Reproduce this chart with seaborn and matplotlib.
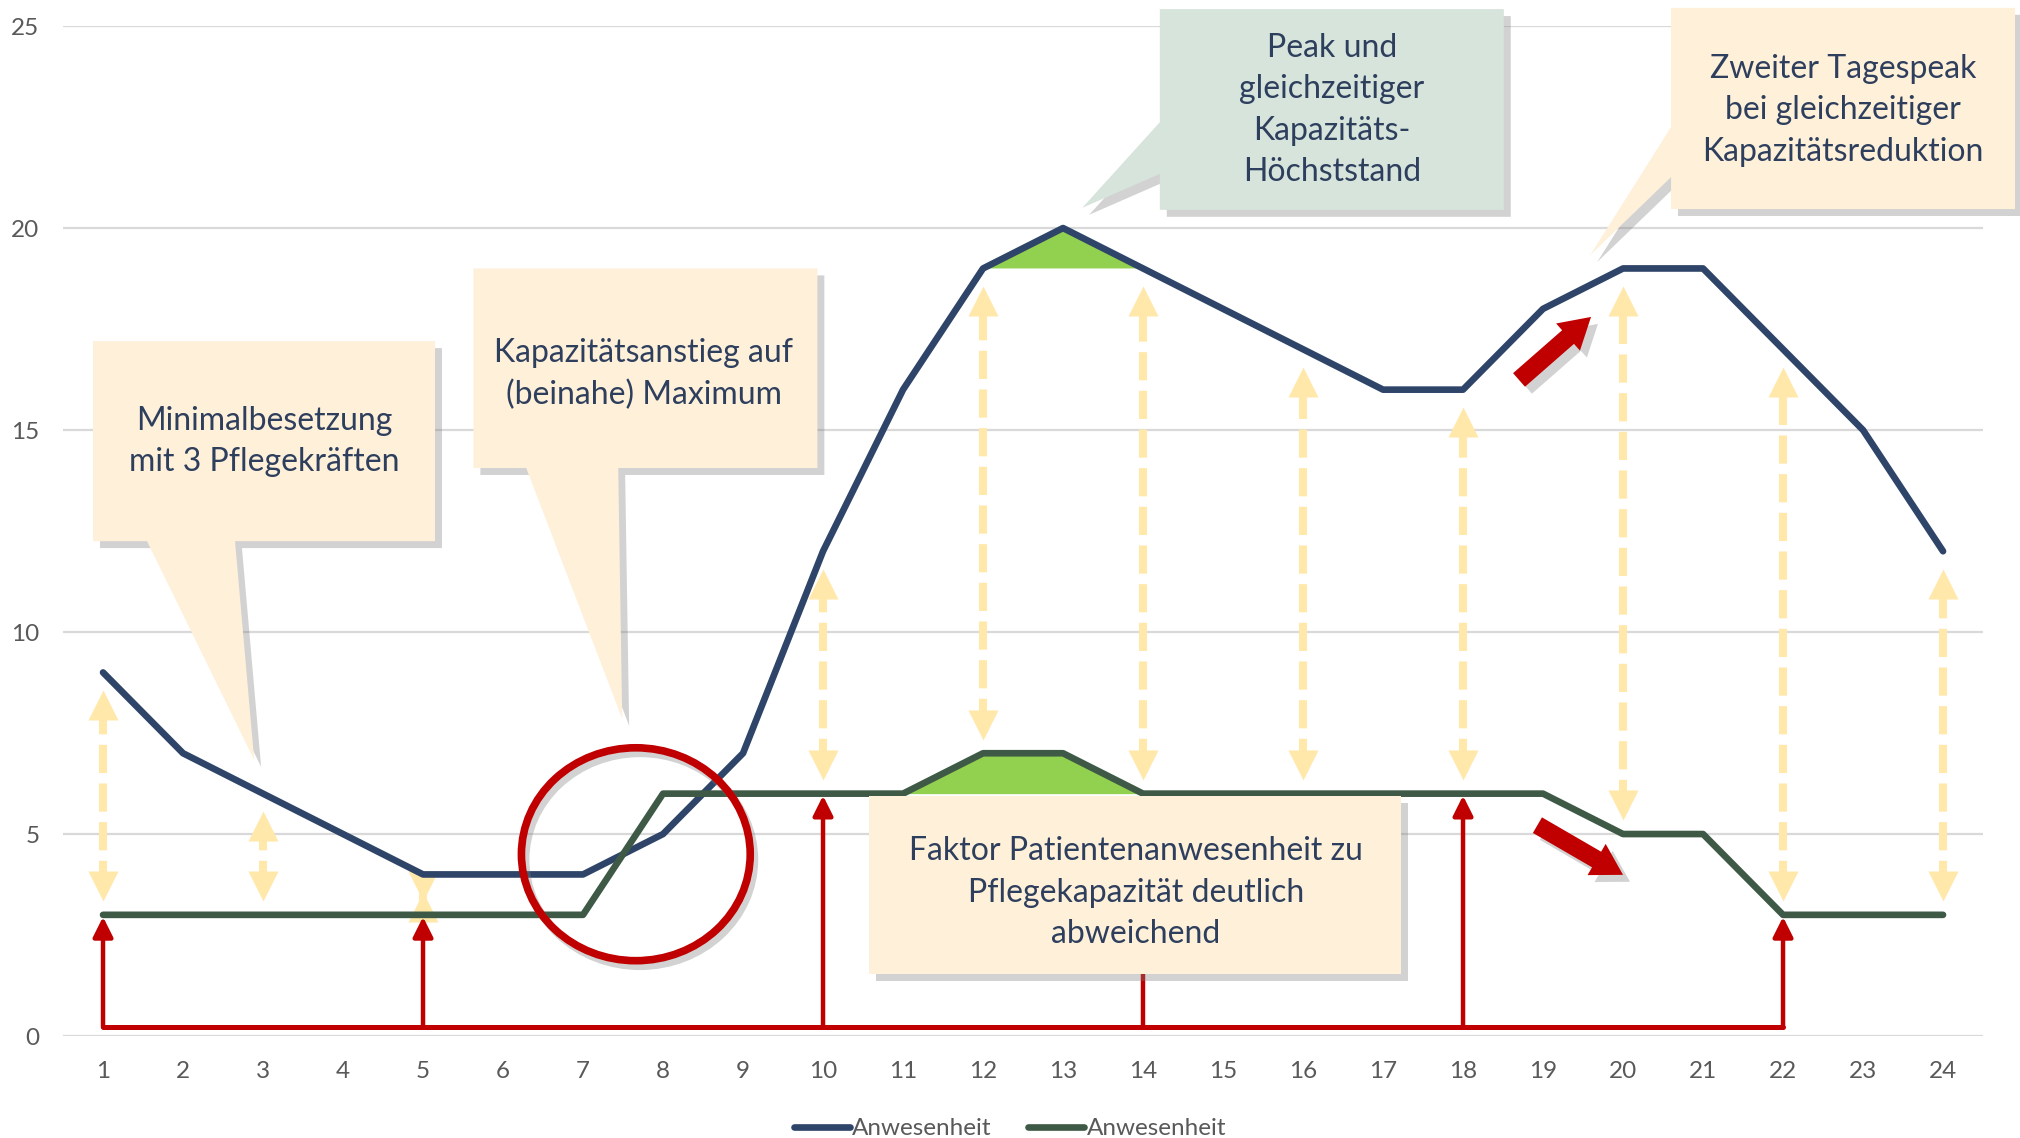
import numpy as np
import pandas as pd
import seaborn as sns
import matplotlib.pyplot as plt
import matplotlib.patches as mpatches
import matplotlib.patheffects as pe

# data (hours 1..24)
hours = list(range(1, 25))
patients = [9, 7, 6, 5, 4, 4, 4, 5, 7, 12, 16, 19, 20, 19, 18, 17, 16, 16, 18, 19, 19, 17, 15, 12]
capacity = [3, 3, 3, 3, 3, 3, 3, 6, 6, 6, 6, 7, 7, 6, 6, 6, 6, 6, 6, 5, 5, 3, 3, 3]
series_label = "Anwesenheit"

gap_hours = [1, 3, 5, 10, 12, 14, 16, 18, 20, 22, 24]   # yellow double arrows
red_hours = [1, 5, 10, 18, 22]                           # red bracket arrows
peak_level = 19
base_level = 6

BLUE = "#2E4468"
GREEN = "#3E5A46"
FILL = "#92D050"
CREAM = "#FEF0D9"
SAGE = "#D6E4DB"
TXT = "#2E3F5E"
YEL = "#FFE8AA"
RED = "#C00000"

sns.set_theme(style="white")
plt.rcParams["font.family"] = ["Lato", "DejaVu Sans"]

df = pd.DataFrame({"hour": hours, "patients": patients, "capacity": capacity})
x = np.array(hours, dtype=float)
b = np.array(patients, dtype=float)
g = np.array(capacity, dtype=float)

fig = plt.figure(figsize=(20.2, 11.38), dpi=100)
ax = fig.add_axes([0.0312, 0.0896, 0.9505, 0.8875])

# green highlight areas
ax.fill_between(x, b, peak_level, where=b >= peak_level, color=FILL, lw=0, zorder=2)
ax.fill_between(x, g, base_level, where=g >= base_level, color=FILL, lw=0, zorder=2)

sns.lineplot(data=df, x="hour", y="patients", ax=ax, color=BLUE, lw=4.8,
             label=series_label, zorder=4, solid_capstyle="round")
sns.lineplot(data=df, x="hour", y="capacity", ax=ax, color=GREEN, lw=4.8,
             label=series_label, zorder=4, solid_capstyle="round")

ax.set_xlim(0.5, 24.5)
ax.set_ylim(0, 25)
ax.set_xticks(hours)
ax.set_yticks([0, 5, 10, 15, 20, 25])
ax.set_xlabel("")
ax.set_ylabel("")
ax.yaxis.grid(True, color="#D9D9D9", lw=1.6)
ax.xaxis.grid(False)
ax.set_axisbelow(True)
for s in ax.spines.values():
    s.set_visible(False)
ax.tick_params(axis="y", length=0, pad=17, labelsize=17.5, labelcolor="#595959")
ax.tick_params(axis="x", length=0, pad=18, labelsize=17.5, labelcolor="#595959")

# yellow dashed double arrows between the two lines
for h in gap_hours:
    lo = capacity[h - 1] + 0.35
    hi = patients[h - 1] - 0.45
    ax.plot([h, h], [lo + 0.3, hi - 0.3], color=YEL, lw=5.8, dashes=(3.5, 1.3), zorder=3)
    ax.plot(h, hi - 0.36, marker="^", ms=21, color=YEL, mec="none", zorder=3)
    ax.plot(h, lo + 0.36, marker="v", ms=21, color=YEL, mec="none", zorder=3)

# red bracket with arrows
ybr = 0.22
ax.plot([min(red_hours), max(red_hours)], [ybr, ybr], color=RED, lw=3.6,
        solid_capstyle="round", zorder=5)
for h in red_hours:
    ax.annotate("", xy=(h, capacity[h - 1] - 0.05), xytext=(h, ybr),
                arrowprops=dict(arrowstyle="-|>,head_length=0.6,head_width=0.3",
                                lw=3.2, color=RED, shrinkA=0, shrinkB=0,
                                mutation_scale=20), zorder=5)
ax.plot([14, 14], [ybr, 1.53], color=RED, lw=3.2, zorder=5)

shadow = [pe.SimplePatchShadow(offset=(5, -5), shadow_rgbFace="#808080", alpha=0.35), pe.Normal()]
line_shadow = [pe.SimpleLineShadow(offset=(3, -4), shadow_color="#808080", alpha=0.35), pe.Normal()]

# red ellipse
ell = mpatches.Ellipse((7.66, 4.5), 2.86, 5.27, fill=False, ec=RED, lw=5.5, zorder=6)
ell.set_path_effects(line_shadow)
ax.add_patch(ell)

# fat red arrows
for tail, tip in [((18.7, 16.24), (19.6, 17.8)), ((18.93, 5.22), (20.0, 3.99))]:
    ax.annotate("", xy=tip, xytext=tail,
                arrowprops=dict(arrowstyle="simple,head_length=1.1,head_width=1.3,tail_width=0.65",
                                fc=RED, ec="none", shrinkA=0, shrinkB=0, mutation_scale=20,
                                path_effects=shadow), zorder=6)


def callout_bottom(x0, x1, y0, y1, b1, b2, tip, color):
    verts = [(x0, y1), (x1, y1), (x1, y0), (b2, y0), tip, (b1, y0), (x0, y0)]
    p = mpatches.Polygon(verts, closed=True, fc=color, ec="none", zorder=7, clip_on=False)
    p.set_path_effects(shadow)
    ax.add_patch(p)


def callout_left(x0, x1, y0, y1, b1, b2, tip, color):
    verts = [(x0, y1), (x1, y1), (x1, y0), (x0, y0), (x0, b1), tip, (x0, b2)]
    p = mpatches.Polygon(verts, closed=True, fc=color, ec="none", zorder=7, clip_on=False)
    p.set_path_effects(shadow)
    ax.add_patch(p)


txt_kw = dict(ha="center", va="center", color=TXT, fontsize=23, linespacing=1.48, zorder=8)

callout_bottom(0.875, 5.15, 12.25, 17.2, 1.55, 2.65, (2.89, 6.83), CREAM)
ax.text(3.01, 14.72, "Minimalbesetzung\nmit 3 Pflegekräften", **txt_kw)

callout_bottom(5.63, 9.93, 14.06, 19.0, 6.29, 7.44, (7.49, 7.85), CREAM)
ax.text(7.76, 16.39, "Kapazitätsanstieg auf\n(beinahe) Maximum", **txt_kw)

callout_left(14.21, 18.51, 20.45, 25.42, 21.34, 22.62, (13.24, 20.5), SAGE)
ax.text(16.36, 22.92, "Peak und\ngleichzeitiger\nKapazitäts-\nHöchststand", **txt_kw)

callout_left(20.6, 24.9, 20.47, 25.45, 21.26, 22.5, (19.59, 19.33), CREAM)
ax.text(22.75, 22.92, "Zweiter Tagespeak\nbei gleichzeitiger\nKapazitätsreduktion", **txt_kw)

box = mpatches.Rectangle((10.58, 1.53), 17.22 - 10.58, 5.94 - 1.53, fc=CREAM, ec="none", zorder=7)
box.set_path_effects(shadow)
ax.add_patch(box)
ax.text(13.91, 3.55, "Faktor Patientenanwesenheit zu\nPflegekapazität deutlich\nabweichend", **txt_kw)

# legend at the bottom
handles, labels = ax.get_legend_handles_labels()
ax.legend_.remove()
fig.legend(handles, labels, loc="lower center", bbox_to_anchor=(0.5, -0.016), ncol=2,
           frameon=False, fontsize=17.5, labelcolor="#595959", handlelength=2.3,
           handletextpad=0.1, columnspacing=1.5, borderpad=0.2)

fig.savefig("out.png", dpi=100)
